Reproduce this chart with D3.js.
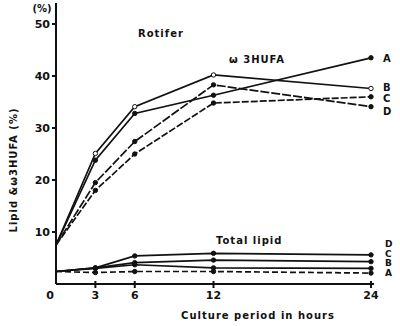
<!DOCTYPE html>
<html>
<head>
    <title></title>
    <script src="https://cdn.jsdelivr.net/npm/d3@7"></script>
    <style>
        body { margin: 0; background: #fff; }
        text { font-family: "DejaVu Sans", sans-serif; fill: #111; }
        .tick { font-size: 11px; font-weight: bold; }
        .lab { font-size: 10px; font-weight: bold; letter-spacing: 1px; }
        .end { font-size: 10px; font-weight: bold; }
    </style>
</head>
<body>

<script type="text/javascript">

    var hours = [0, 3, 6, 12, 24],
        xTicks = [0, 3, 6, 12, 24],
        yTicks = [10, 20, 30, 40, 50];

    // w3HUFA (% of total fatty acids)
    var hufaA = [7.5, 23.8, 32.8, 36.3, 43.5],
        hufaB = [7.5, 25.1, 34.1, 40.2, 37.6],
        hufaC = [7.5, 18.0, 25.0, 34.8, 36.0],
        hufaD = [7.5, 19.5, 27.4, 38.3, 34.1];

    // total lipid
    var lipA = [2.4, 2.2, 2.4, 2.4, 2.1],
        lipB = [2.4, 3.0, 3.7, 3.1, 3.0],
        lipC = [2.4, 3.1, 4.1, 4.6, 4.3],
        lipD = [2.4, 3.1, 5.4, 5.9, 5.6];

    var w = 400, h = 326;

    var x = d3.scaleLinear().domain([0, 24]).range([56, 371]),
        y = d3.scaleLinear().domain([0, 50]).range([284, 24]);

    var svg = d3.select("body").append("svg")
            .attr("width", w)
            .attr("height", h);

    // axes
    svg.append("line").attr("x1", x(0)).attr("x2", 374)
        .attr("y1", y(0)).attr("y2", y(0))
        .attr("stroke", "#111").attr("stroke-width", 2);
    svg.append("line").attr("x1", x(0)).attr("x2", x(0))
        .attr("y1", y(0)).attr("y2", 3)
        .attr("stroke", "#111").attr("stroke-width", 2);

    svg.selectAll(".yt").data(yTicks).enter().append("line")
        .attr("x1", x(0) - 4).attr("x2", x(0))
        .attr("y1", function(d){ return y(d); })
        .attr("y2", function(d){ return y(d); })
        .attr("stroke", "#111").attr("stroke-width", 2);
    svg.selectAll(".ytl").data(yTicks).enter().append("text")
        .attr("class", "tick")
        .attr("x", x(0) - 6)
        .attr("y", function(d){ return y(d) + 4; })
        .attr("text-anchor", "end")
        .text(function(d){ return d; });

    svg.selectAll(".xt").data(xTicks.slice(1)).enter().append("line")
        .attr("x1", function(d){ return x(d); })
        .attr("x2", function(d){ return x(d); })
        .attr("y1", y(0) - 3).attr("y2", y(0) + 4)
        .attr("stroke", "#111").attr("stroke-width", 2);
    svg.selectAll(".xtl").data(xTicks).enter().append("text")
        .attr("class", "tick")
        .attr("x", function(d){ return d === 0 ? x(d) - 6 : x(d); })
        .attr("y", 299)
        .attr("text-anchor", "middle")
        .text(function(d){ return d; });

    svg.append("text").attr("class", "tick")
        .attr("x", 42).attr("y", 12).attr("text-anchor", "middle")
        .style("font-size", "10px").text("(%)");

    svg.append("text").attr("class", "lab")
        .attr("transform", "translate(17,170) rotate(-90)")
        .attr("text-anchor", "middle")
        .text("Lipid &\u03c93HUFA (%)");

    svg.append("text").attr("class", "lab")
        .attr("x", 258).attr("y", 319).attr("text-anchor", "middle")
        .text("Culture period in hours");

    svg.append("text").attr("class", "lab")
        .attr("x", 138).attr("y", 37).text("Rotifer");
    svg.append("text").attr("class", "lab")
        .attr("x", 229).attr("y", 63).text("\u03c9 3HUFA");
    svg.append("text").attr("class", "lab")
        .attr("x", 216).attr("y", 244).text("Total lipid");

    var line = d3.line()
        .x(function(d, i){ return x(hours[i]); })
        .y(function(d){ return y(d); });

    var series = [
        { v: hufaA, hollow: false, dash: null },
        { v: hufaB, hollow: true, dash: null },
        { v: hufaC, hollow: false, dash: "7,2" },
        { v: hufaD, hollow: false, dash: "9,2" },
        { v: lipA, hollow: false, dash: "6,3" },
        { v: lipB, hollow: false, dash: null },
        { v: lipC, hollow: false, dash: null },
        { v: lipD, hollow: false, dash: null }
    ];

    series.forEach(function(s){
        svg.append("path")
            .attr("d", line(s.v))
            .attr("fill", "none")
            .attr("stroke", "#111")
            .attr("stroke-width", 1.7)
            .attr("stroke-dasharray", s.dash);
        svg.selectAll(null).data(s.v.slice(1)).enter().append("circle")
            .attr("cx", function(d, i){ return x(hours[i + 1]); })
            .attr("cy", function(d){ return y(d); })
            .attr("r", 2.2)
            .attr("fill", s.hollow ? "#fff" : "#111")
            .attr("stroke", "#111")
            .attr("stroke-width", 1);
    });

    // end labels
    var hufaLabels = ["A", "B", "C", "D"],
        hufaEnds = [43.5, 37.9, 35.7, 33.2],
        lipLabels = ["D", "C", "B", "A"],
        lipEnds = [7.8, 6.0, 4.2, 2.4];

    svg.selectAll(".he").data(hufaLabels).enter().append("text")
        .attr("class", "end")
        .attr("x", 383)
        .attr("y", function(d, i){ return y(hufaEnds[i]) + 4; })
        .text(function(d){ return d; });

    svg.selectAll(".le").data(lipLabels).enter().append("text")
        .attr("class", "end")
        .attr("x", 385)
        .attr("y", function(d, i){ return y(lipEnds[i]) + 4; })
        .style("font-size", "9px")
        .text(function(d){ return d; });
</script>
</body>
</html>
